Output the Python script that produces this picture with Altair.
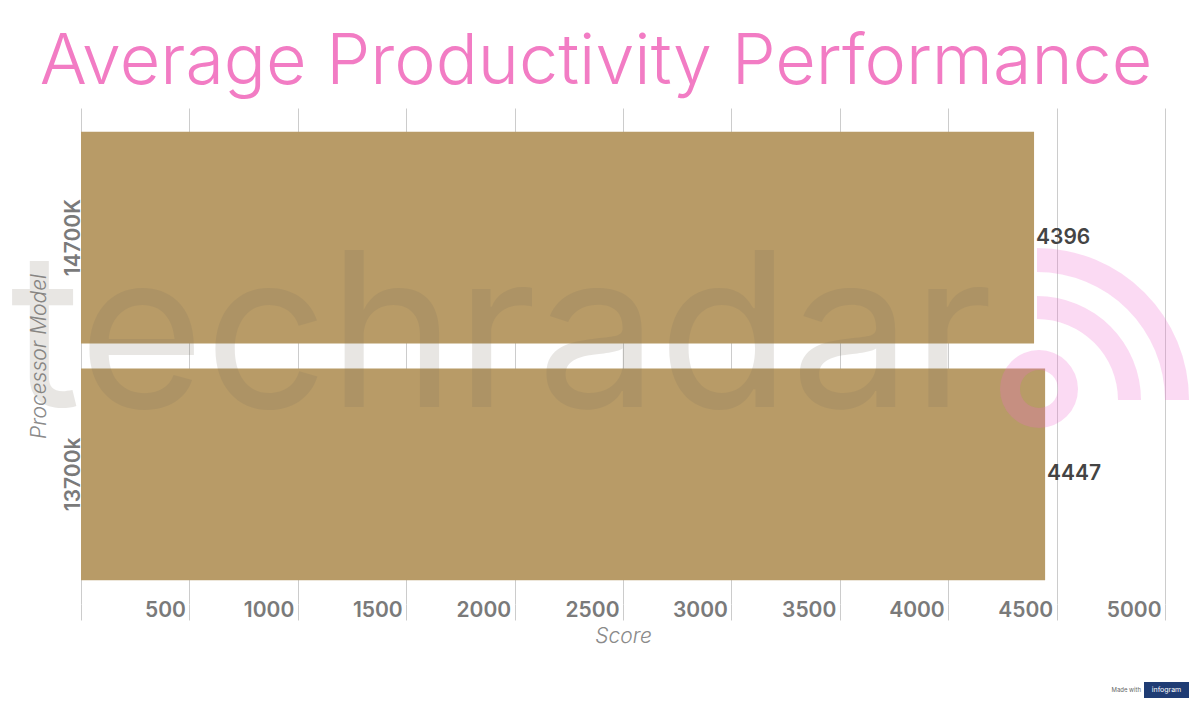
import altair as alt
import pandas as pd

models = ["14700K", "13700k"]
scores = [4396, 4447]
tick_values = [0, 500, 1000, 1500, 2000, 2500, 3000, 3500, 4000, 4500, 5000]

df = pd.DataFrame({"model": models, "score": scores})
one = pd.DataFrame({"k": [0]})

FONT = "Inter"
W, H = 1084, 496

base = alt.Chart(df)

bars = base.mark_bar(color="#b89b67").encode(
    y=alt.Y("model:N", sort=models, title="Processor Model",
            scale=alt.Scale(paddingInner=0.105, paddingOuter=0.1),
            axis=alt.Axis(labelAngle=-90, labelAlign="center", labelBaseline="bottom",
                          labelFontSize=21, labelFontWeight=600, labelColor="#7a7a7a",
                          labelFont=FONT, labelPadding=-2, domain=False, ticks=False,
                          titleFont=FONT, titleFontSize=21, titleFontStyle="italic",
                          titleFontWeight=300, titleColor="#8a8a8a", titlePadding=13)),
    x=alt.X("score:Q", title="Score",
            scale=alt.Scale(domain=[0, 5000], nice=False),
            axis=alt.Axis(values=tick_values, grid=True, gridColor="#cccccc", gridWidth=1,
                          domain=False, ticks=True, tickColor="#cccccc", tickSize=16,
                          labelExpr="datum.value == 0 ? '' : datum.label",
                          format="d", labelAlign="right", labelBaseline="middle",
                          labelOffset=-4, labelPadding=-10, labelFont=FONT, labelFontSize=21,
                          labelFontWeight=600, labelColor="#7a7a7a", labelFlush=False,
                          titleFont=FONT, titleFontSize=21, titleFontStyle="italic",
                          titleFontWeight=300, titleColor="#8a8a8a", titlePadding=5)),
)

# faint "techradar" watermark overlay
wm_text = alt.Chart(one).mark_text(
    text="techradar", font=FONT, fontSize=216, fontWeight=400, color="#7a7060",
    opacity=0.17, align="left", baseline="alphabetic"
).encode(x=alt.value(-71), y=alt.value(299))

PINK = "#f06ad0"
wm_arc_outer = alt.Chart(one).mark_arc(
    theta=0, theta2=1.5708, innerRadius=128, outerRadius=152, color=PINK, opacity=0.25
).encode(x=alt.value(956), y=alt.value(292))
wm_arc_mid = alt.Chart(one).mark_arc(
    theta=0, theta2=1.5708, innerRadius=81, outerRadius=104, color=PINK, opacity=0.25
).encode(x=alt.value(956), y=alt.value(292))
wm_ring = alt.Chart(one).mark_arc(
    theta=0, theta2=6.2832, innerRadius=19, outerRadius=39, color=PINK, opacity=0.25
).encode(x=alt.value(958), y=alt.value(281))

labels = base.mark_text(align="left", baseline="middle", dx=2, fontSize=21,
                        fontWeight=600, font=FONT, color="#444444").encode(
    y=alt.Y("model:N", sort=models),
    x="score:Q",
    text="score:Q",
)

# "Made with infogram" badge
badge_made = alt.Chart(one).mark_text(
    text="Made with", font=FONT, fontSize=6, color="#666666", align="right",
    baseline="middle"
).encode(x=alt.value(1060), y=alt.value(582))
badge_box = alt.Chart(one).mark_rect(color="#1f3c74").encode(
    x=alt.value(1063), x2=alt.value(1108), y=alt.value(574), y2=alt.value(590))
badge_name = alt.Chart(one).mark_text(
    text="infogram", font=FONT, fontSize=7, color="white", align="center",
    baseline="middle"
).encode(x=alt.value(1085.5), y=alt.value(582))

chart = alt.layer(bars, wm_text, wm_arc_outer, wm_arc_mid, wm_ring, labels,
                  badge_box, badge_name, badge_made).properties(
    width=W,
    height=H,
    autosize=alt.AutoSizeParams(type="none"),
    padding={"left": 73, "top": 100, "right": 27, "bottom": 94},
    title=alt.TitleParams("Average Productivity Performance", font=FONT, fontSize=70,
                          fontWeight=300, color="#f27cc4", anchor="middle", dx=-27,
                          offset=9),
    background="white",
).configure_view(stroke=None)

chart.save("out.html", embed_options={"renderer": "svg", "actions": False})
